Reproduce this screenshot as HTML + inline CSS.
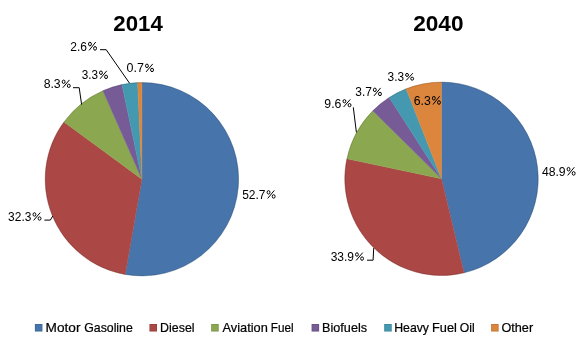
<!DOCTYPE html>
<html><head><meta charset="utf-8"><style>
html,body{margin:0;padding:0;background:#fff;width:580px;height:342px;overflow:hidden}
svg{display:block;will-change:transform;font-family:"Liberation Sans",sans-serif}
</style></head><body>
<svg width="580" height="342" viewBox="0 0 580 342">
<rect width="580" height="342" fill="#fff"/>
<path d="M141.90,179.20 L141.90,82.50 A96.7,96.7 0 1 1 125.26,274.46 Z" fill="#4775AB" stroke="#4775AB" stroke-width="0.4" stroke-linejoin="round"/>
<path d="M141.90,179.20 L125.26,274.46 A96.7,96.7 0 0 1 63.97,121.94 Z" fill="#AB4845" stroke="#AB4845" stroke-width="0.4" stroke-linejoin="round"/>
<path d="M141.90,179.20 L63.97,121.94 A96.7,96.7 0 0 1 102.90,90.71 Z" fill="#8BA850" stroke="#8BA850" stroke-width="0.4" stroke-linejoin="round"/>
<path d="M141.90,179.20 L102.90,90.71 A96.7,96.7 0 0 1 121.97,84.58 Z" fill="#775B96" stroke="#775B96" stroke-width="0.4" stroke-linejoin="round"/>
<path d="M141.90,179.20 L121.97,84.58 A96.7,96.7 0 0 1 137.64,82.59 Z" fill="#4499B1" stroke="#4499B1" stroke-width="0.4" stroke-linejoin="round"/>
<path d="M141.90,179.20 L137.64,82.59 A96.7,96.7 0 0 1 141.90,82.50 Z" fill="#DC853D" stroke="#DC853D" stroke-width="0.4" stroke-linejoin="round"/>
<path d="M441.50,178.80 L441.50,82.10 A96.7,96.7 0 0 1 464.00,272.85 Z" fill="#4775AB" stroke="#4775AB" stroke-width="0.4" stroke-linejoin="round"/>
<path d="M441.50,178.80 L464.00,272.85 A96.7,96.7 0 0 1 346.92,158.69 Z" fill="#AB4845" stroke="#AB4845" stroke-width="0.4" stroke-linejoin="round"/>
<path d="M441.50,178.80 L346.92,158.69 A96.7,96.7 0 0 1 372.77,110.78 Z" fill="#8BA850" stroke="#8BA850" stroke-width="0.4" stroke-linejoin="round"/>
<path d="M441.50,178.80 L372.77,110.78 A96.7,96.7 0 0 1 389.26,97.42 Z" fill="#775B96" stroke="#775B96" stroke-width="0.4" stroke-linejoin="round"/>
<path d="M441.50,178.80 L389.26,97.42 A96.7,96.7 0 0 1 406.13,88.80 Z" fill="#4499B1" stroke="#4499B1" stroke-width="0.4" stroke-linejoin="round"/>
<path d="M441.50,178.80 L406.13,88.80 A96.7,96.7 0 0 1 441.50,82.10 Z" fill="#DC853D" stroke="#DC853D" stroke-width="0.4" stroke-linejoin="round"/>
<circle cx="141.9" cy="179.2" r="96.5" fill="none" stroke="#000" stroke-opacity="0.15" stroke-width="1.0"/>
<circle cx="441.5" cy="178.8" r="96.5" fill="none" stroke="#000" stroke-opacity="0.15" stroke-width="1.0"/>
<polyline points="100,49.7 106.2,49.7 129.6,83.3" stroke="#000" stroke-width="1" fill="none"/>
<polyline points="73,87.7 79.2,87.7 81.6,104.5" stroke="#000" stroke-width="1" fill="none"/>
<polyline points="44.4,220.1 50.3,220.1 52.8,216" stroke="#000" stroke-width="1" fill="none"/>
<polyline points="353.3,107.3 356.4,132.4" stroke="#000" stroke-width="1" fill="none"/>
<polyline points="367,260.2 373.1,260.2 373.7,248.1" stroke="#000" stroke-width="1" fill="none"/>
<rect x="34.9" y="324" width="7.5" height="7.5" fill="#4775AB"/>
<rect x="35.3" y="324.4" width="6.7" height="6.7" fill="none" stroke="#000" stroke-opacity="0.12" stroke-width="0.8"/>
<rect x="149.5" y="324" width="7.5" height="7.5" fill="#AB4845"/>
<rect x="149.9" y="324.4" width="6.7" height="6.7" fill="none" stroke="#000" stroke-opacity="0.12" stroke-width="0.8"/>
<rect x="211.2" y="324" width="7.5" height="7.5" fill="#8BA850"/>
<rect x="211.6" y="324.4" width="6.7" height="6.7" fill="none" stroke="#000" stroke-opacity="0.12" stroke-width="0.8"/>
<rect x="311.6" y="324" width="7.5" height="7.5" fill="#775B96"/>
<rect x="312.0" y="324.4" width="6.7" height="6.7" fill="none" stroke="#000" stroke-opacity="0.12" stroke-width="0.8"/>
<rect x="384.2" y="324" width="7.5" height="7.5" fill="#4499B1"/>
<rect x="384.59999999999997" y="324.4" width="6.7" height="6.7" fill="none" stroke="#000" stroke-opacity="0.12" stroke-width="0.8"/>
<rect x="491.1" y="324" width="7.5" height="7.5" fill="#DC853D"/>
<rect x="491.5" y="324.4" width="6.7" height="6.7" fill="none" stroke="#000" stroke-opacity="0.12" stroke-width="0.8"/>
<text x="113.25" y="31.00" font-size="21.8" font-weight="bold" fill="#000" stroke="#000" stroke-width="0" textLength="49.52" lengthAdjust="spacingAndGlyphs">2014</text>
<text x="413.23" y="31.00" font-size="21.8" font-weight="bold" fill="#000" stroke="#000" stroke-width="0" textLength="50.32" lengthAdjust="spacingAndGlyphs">2040</text>
<text x="242.21" y="199.00" font-size="12.5" font-weight="normal" fill="#000" stroke="#000" stroke-width="0.0" textLength="23.32" lengthAdjust="spacingAndGlyphs">52.7</text>
<g fill="none" stroke="#000" stroke-width="1.0"><ellipse cx="268.54" cy="192.34" rx="1.44" ry="1.74"/><ellipse cx="273.67" cy="196.46" rx="1.44" ry="1.74"/><path d="M267.68,198.40 L274.34,190.40"/></g>
<text x="8.12" y="221.00" font-size="12.5" font-weight="normal" fill="#000" stroke="#000" stroke-width="0.0" textLength="23.26" lengthAdjust="spacingAndGlyphs">32.3</text>
<g fill="none" stroke="#000" stroke-width="1.0"><ellipse cx="34.44" cy="214.48" rx="1.44" ry="1.68"/><ellipse cx="39.56" cy="218.52" rx="1.44" ry="1.68"/><path d="M33.58,220.40 L40.24,212.60"/></g>
<text x="43.65" y="88.00" font-size="12.5" font-weight="normal" fill="#000" stroke="#000" stroke-width="0.0" textLength="17.03" lengthAdjust="spacingAndGlyphs">8.3</text>
<g fill="none" stroke="#000" stroke-width="1.0"><ellipse cx="63.64" cy="81.78" rx="1.44" ry="1.68"/><ellipse cx="68.77" cy="85.82" rx="1.44" ry="1.68"/><path d="M62.78,87.70 L69.44,79.90"/></g>
<text x="81.68" y="79.00" font-size="12.5" font-weight="normal" fill="#000" stroke="#000" stroke-width="0.0" textLength="16.32" lengthAdjust="spacingAndGlyphs">3.3</text>
<g fill="none" stroke="#000" stroke-width="1.0"><ellipse cx="100.94" cy="72.74" rx="1.44" ry="1.74"/><ellipse cx="106.06" cy="76.86" rx="1.44" ry="1.74"/><path d="M100.08,78.80 L106.74,70.80"/></g>
<text x="70.32" y="51.00" font-size="12.5" font-weight="normal" fill="#000" stroke="#000" stroke-width="0.0" textLength="16.75" lengthAdjust="spacingAndGlyphs">2.6</text>
<g fill="none" stroke="#000" stroke-width="1.0"><ellipse cx="89.94" cy="44.04" rx="1.44" ry="1.84"/><ellipse cx="95.06" cy="48.36" rx="1.44" ry="1.84"/><path d="M89.08,50.40 L95.74,42.00"/></g>
<text x="126.60" y="72.00" font-size="12.5" font-weight="normal" fill="#000" stroke="#000" stroke-width="0.0" textLength="17.35" lengthAdjust="spacingAndGlyphs">0.7</text>
<g fill="none" stroke="#000" stroke-width="1.0"><ellipse cx="146.94" cy="65.84" rx="1.44" ry="1.74"/><ellipse cx="152.06" cy="69.96" rx="1.44" ry="1.74"/><path d="M146.08,71.90 L152.74,63.90"/></g>
<text x="541.90" y="176.00" font-size="12.5" font-weight="normal" fill="#000" stroke="#000" stroke-width="0.0" textLength="23.78" lengthAdjust="spacingAndGlyphs">48.9</text>
<g fill="none" stroke="#000" stroke-width="1.0"><ellipse cx="568.53" cy="169.19" rx="1.44" ry="1.79"/><ellipse cx="573.67" cy="173.41" rx="1.44" ry="1.79"/><path d="M567.68,175.40 L574.34,167.20"/></g>
<text x="330.71" y="261.00" font-size="12.5" font-weight="normal" fill="#000" stroke="#000" stroke-width="0.0" textLength="23.35" lengthAdjust="spacingAndGlyphs">33.9</text>
<g fill="none" stroke="#000" stroke-width="1.0"><ellipse cx="356.94" cy="254.51" rx="1.44" ry="1.71"/><ellipse cx="362.06" cy="258.59" rx="1.44" ry="1.71"/><path d="M356.08,260.50 L362.74,252.60"/></g>
<text x="324.35" y="108.00" font-size="12.5" font-weight="normal" fill="#000" stroke="#000" stroke-width="0.0" textLength="17.09" lengthAdjust="spacingAndGlyphs">9.6</text>
<g fill="none" stroke="#000" stroke-width="1.0"><ellipse cx="344.44" cy="101.23" rx="1.44" ry="1.63"/><ellipse cx="349.56" cy="105.17" rx="1.44" ry="1.63"/><path d="M343.58,107.00 L350.24,99.40"/></g>
<text x="355.36" y="96.00" font-size="12.5" font-weight="normal" fill="#000" stroke="#000" stroke-width="0.0" textLength="16.61" lengthAdjust="spacingAndGlyphs">3.7</text>
<g fill="none" stroke="#000" stroke-width="1.0"><ellipse cx="374.83" cy="89.84" rx="1.44" ry="1.74"/><ellipse cx="379.96" cy="93.96" rx="1.44" ry="1.74"/><path d="M373.98,95.90 L380.64,87.90"/></g>
<text x="387.61" y="81.00" font-size="12.5" font-weight="normal" fill="#000" stroke="#000" stroke-width="0.0" textLength="16.51" lengthAdjust="spacingAndGlyphs">3.3</text>
<g fill="none" stroke="#000" stroke-width="1.0"><ellipse cx="407.04" cy="74.93" rx="1.44" ry="1.53"/><ellipse cx="412.17" cy="78.67" rx="1.44" ry="1.53"/><path d="M406.18,80.40 L412.84,73.20"/></g>
<text x="413.81" y="105.00" font-size="12.5" font-weight="normal" fill="#000" stroke="#000" stroke-width="0.0" textLength="17.08" lengthAdjust="spacingAndGlyphs">6.3</text>
<g fill="none" stroke="#000" stroke-width="1.0"><ellipse cx="433.83" cy="98.21" rx="1.44" ry="1.81"/><ellipse cx="438.96" cy="102.49" rx="1.44" ry="1.81"/><path d="M432.98,104.50 L439.64,96.20"/></g>
<text x="45.61" y="332.00" font-size="11.9" font-weight="normal" fill="#000" stroke="#000" stroke-width="0.2" textLength="34.89" lengthAdjust="spacingAndGlyphs">Motor</text>
<text x="84.22" y="332.00" font-size="11.9" font-weight="normal" fill="#000" stroke="#000" stroke-width="0.2" textLength="48.58" lengthAdjust="spacingAndGlyphs">Gasoline</text>
<text x="160.11" y="332.00" font-size="11.9" font-weight="normal" fill="#000" stroke="#000" stroke-width="0.2" textLength="34.43" lengthAdjust="spacingAndGlyphs">Diesel</text>
<text x="222.50" y="332.00" font-size="11.9" font-weight="normal" fill="#000" stroke="#000" stroke-width="0.2" textLength="45.26" lengthAdjust="spacingAndGlyphs">Aviation</text>
<text x="270.76" y="332.00" font-size="11.9" font-weight="normal" fill="#000" stroke="#000" stroke-width="0.2" textLength="22.77" lengthAdjust="spacingAndGlyphs">Fuel</text>
<text x="322.13" y="332.00" font-size="11.9" font-weight="normal" fill="#000" stroke="#000" stroke-width="0.2" textLength="44.90" lengthAdjust="spacingAndGlyphs">Biofuels</text>
<text x="394.21" y="332.00" font-size="11.9" font-weight="normal" fill="#000" stroke="#000" stroke-width="0.2" textLength="34.82" lengthAdjust="spacingAndGlyphs">Heavy</text>
<text x="431.96" y="332.00" font-size="11.9" font-weight="normal" fill="#000" stroke="#000" stroke-width="0.2" textLength="24.89" lengthAdjust="spacingAndGlyphs">Fuel</text>
<text x="459.72" y="332.00" font-size="11.9" font-weight="normal" fill="#000" stroke="#000" stroke-width="0.2" textLength="14.90" lengthAdjust="spacingAndGlyphs">Oil</text>
<text x="501.47" y="332.00" font-size="11.9" font-weight="normal" fill="#000" stroke="#000" stroke-width="0.2" textLength="31.66" lengthAdjust="spacingAndGlyphs">Other</text>
</svg>
</body></html>
